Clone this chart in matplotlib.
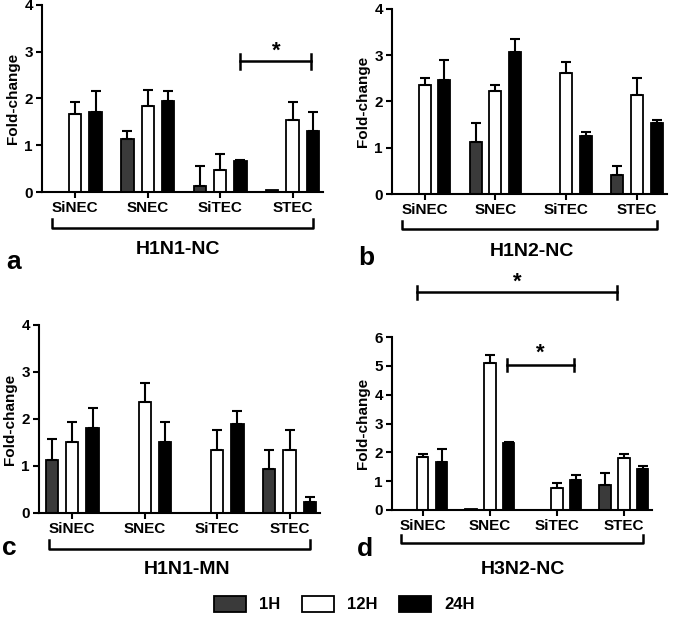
import numpy as np
import matplotlib
matplotlib.use("Agg")
import matplotlib.pyplot as plt
from matplotlib.patches import Patch

plt.rcParams["font.family"] = ["Liberation Sans", "DejaVu Sans"]
plt.rcParams["font.weight"] = "bold"

cells = ["SiNEC", "SNEC", "SiTEC", "STEC"]
times = ["1H", "12H", "24H"]
colors = ["#3a3a3a", "white", "black"]
nan = np.nan

# panel a: H1N1-NC
a_mean = [[0, 1.13, 0.13, 0.04], [1.67, 1.83, 0.46, 1.53], [1.72, 1.95, 0.66, 1.30]]
a_sd = [[nan, 0.17, 0.43, nan], [0.26, 0.35, 0.35, 0.40], [0.43, 0.20, 0.02, 0.41]]
# panel b: H1N2-NC
b_mean = [[0, 1.12, 0, 0.41], [2.36, 2.22, 2.62, 2.13], [2.46, 3.08, 1.25, 1.53]]
b_sd = [[nan, 0.42, nan, 0.20], [0.15, 0.13, 0.23, 0.38], [0.43, 0.27, 0.10, 0.07]]
# panel c: H1N1-MN
c_mean = [[1.12, 0, 0, 0.93], [1.52, 2.36, 1.33, 1.33], [1.80, 1.52, 1.90, 0.23]]
c_sd = [[0.45, nan, nan, 0.40], [0.42, 0.41, 0.43, 0.43], [0.44, 0.42, 0.27, 0.11]]
# panel d: H3N2-NC
d_mean = [[0, 0.03, 0, 0.87], [1.85, 5.10, 0.75, 1.82], [1.68, 2.32, 1.04, 1.43]]
d_sd = [[nan, nan, nan, 0.43], [0.10, 0.26, 0.18, 0.13], [0.44, 0.05, 0.16, 0.08]]

panels = [
    ("a", "H1N1-NC", a_mean, a_sd, 4, [0.0622, 0.6923, 0.4163, 0.2997]),
    ("b", "H1N2-NC", b_mean, b_sd, 4, [0.5807, 0.6891, 0.4074, 0.2965]),
    ("c", "H1N1-MN", c_mean, c_sd, 4, [0.0578, 0.1779, 0.4163, 0.3013]),
    ("d", "H3N2-NC", d_mean, d_sd, 6, [0.5807, 0.1827, 0.3852, 0.2772]),
]
# (letter x, letter y, title x, title y) in figure pixels
text_pos = {"a": (14, 262, 178, 250), "b": (366, 258, 532, 252),
            "c": (9, 548, 187, 570), "d": (365, 549, 523, 570)}

W, H = 675, 624
fig = plt.figure(figsize=(W / 100, H / 100), dpi=100)
offsets = [-0.28, 0.0, 0.28]
width = 0.17
x = np.arange(len(cells))
axes = {}
for letter, title, mean, sd, ymax, rect in panels:
    ax = fig.add_axes(rect)
    axes[letter] = ax
    for k in range(3):
        m = np.array(mean[k], dtype=float)
        s = np.array(sd[k], dtype=float)
        keep = m > 0
        ax.bar(x[keep] + offsets[k], m[keep], width, color=colors[k],
               edgecolor="black", linewidth=1.3, zorder=2)
        ok = np.isfinite(s)
        ax.errorbar(x[ok] + offsets[k], m[ok], yerr=[np.zeros(ok.sum()), s[ok]],
                    fmt="none", ecolor="black", elinewidth=1.5, capsize=3.5,
                    capthick=1.5, zorder=3)
    ax.set_xlim(-0.46, 3.42)
    ax.set_ylim(0, ymax)
    ax.set_yticks(range(ymax + 1))
    ax.set_xticks(x)
    ax.set_xticklabels(cells, fontsize=11, fontweight="bold")
    ax.tick_params(axis="both", width=1.5, length=4, labelsize=11, pad=2.5)
    for t in ax.get_yticklabels():
        t.set_fontweight("bold")
    ax.spines[["top", "right"]].set_visible(False)
    ax.spines[["left", "bottom"]].set_linewidth(1.5)
    ax.set_ylabel("Fold-change", fontsize=11, fontweight="bold", labelpad=3)
    # group bracket under the tick labels
    tr = ax.get_xaxis_transform()
    ax.plot([-0.32, -0.32, 3.28, 3.28], [-0.145, -0.19, -0.19, -0.145],
            color="black", lw=1.8, transform=tr, clip_on=False)
    lx, ly, tx, ty = text_pos[letter]
    fig.text(lx / W, 1 - ly / H, letter, fontsize=19, fontweight="bold",
             ha="center", va="center")
    fig.text(tx / W, 1 - ty / H, title, fontsize=14, fontweight="bold",
             ha="center", va="center")


def sig(ax, x0, x1, y, cap, star_y):
    ax.plot([x0, x1], [y, y], color="black", lw=1.8, clip_on=False)
    for xx in (x0, x1):
        ax.plot([xx, xx], [y - cap, y + cap], color="black", lw=1.8, clip_on=False)
    ax.text((x0 + x1) / 2, star_y, "*", ha="center", va="center",
            fontsize=16, fontweight="bold")


sig(axes["a"], 2.28, 3.26, 2.8, 0.16, 3.02)
sig(axes["d"], 1.25, 2.25, 5.03, 0.22, 5.45)
sig(axes["d"], -0.09, 2.9, 7.55, 0.22, 7.9)

handles = [Patch(facecolor=c, edgecolor="black", linewidth=1.3) for c in colors]
fig.legend(handles, times, loc="center", bbox_to_anchor=(0.51, 1 - 604 / H),
           ncol=3, frameon=False, handlelength=1.9, handleheight=1.1,
           columnspacing=1.3, handletextpad=0.8,
           prop={"size": 12, "weight": "bold"})

fig.savefig("out.png", dpi=100)
